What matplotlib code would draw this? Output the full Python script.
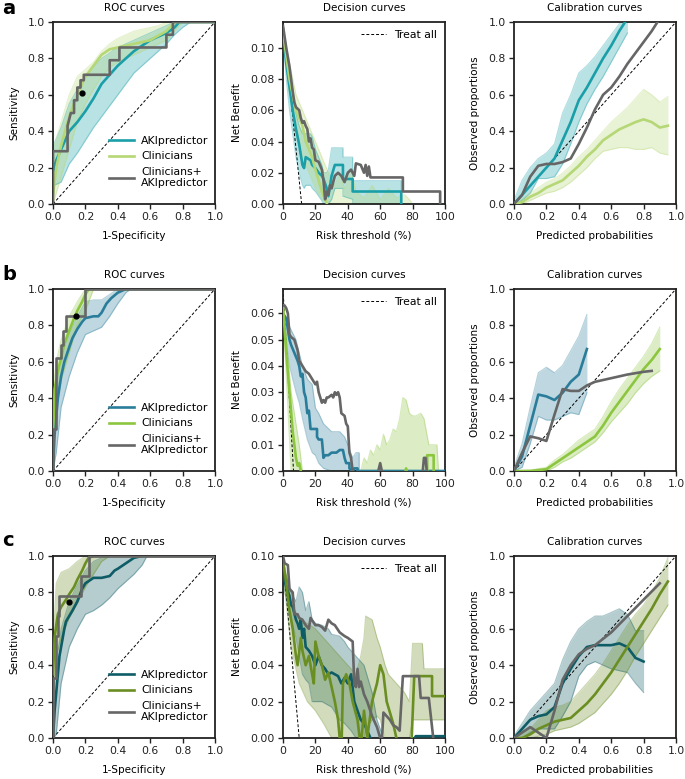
import matplotlib
matplotlib.use("Agg")
import matplotlib.pyplot as plt

plt.rcParams["font.family"] = ["DejaVu Sans"]
plt.rcParams["font.size"] = 7

GRAY = "#666666"
COLORS = {
    "a": ("#1a9fa8", "#b5d775"),
    "b": ("#2a7d9a", "#8cc63f"),
    "c": ("#0e5c66", "#6b8e23"),
}
LABELS = ["AKIpredictor", "Clinicians", "Clinicians+\nAKIpredictor"]

# ---------------- row a ----------------
a_roc_ai_x = [0, 0.02, 0.05, 0.1, 0.15, 0.2, 0.25, 0.3, 0.35, 0.4, 0.45, 0.5, 0.55, 0.6, 0.65, 0.7, 0.75, 0.78, 1.0]
a_roc_ai_y = [0.18, 0.24, 0.3, 0.4, 0.45, 0.51, 0.58, 0.66, 0.71, 0.76, 0.8, 0.84, 0.87, 0.9, 0.92, 0.94, 0.97, 1.0, 1.0]
a_roc_band_x = [0, 0.05, 0.1, 0.15, 0.2, 0.25, 0.3, 0.35, 0.4, 0.45, 0.5, 0.55, 0.6, 0.65, 0.7, 0.75, 0.8, 0.85, 1.0]
a_roc_ai_hi = [0.32, 0.42, 0.55, 0.63, 0.7, 0.75, 0.8, 0.83, 0.86, 0.88, 0.9, 0.92, 0.94, 0.96, 0.98, 1.0, 1.0, 1.0, 1.0]
a_roc_ai_lo = [0.1, 0.12, 0.22, 0.28, 0.35, 0.42, 0.48, 0.54, 0.6, 0.66, 0.72, 0.76, 0.8, 0.84, 0.88, 0.93, 0.97, 1.0, 1.0]
a_roc_cl_x = [0, 0.02, 0.05, 0.1, 0.15, 0.2, 0.25, 0.3, 0.35, 0.4, 0.5, 0.6, 0.7, 0.75, 1.0]
a_roc_cl_y = [0.05, 0.2, 0.32, 0.48, 0.6, 0.7, 0.76, 0.82, 0.85, 0.86, 0.88, 0.9, 0.95, 1.0, 1.0]
a_roc_cl_hi = [0.3, 0.45, 0.6, 0.7, 0.74, 0.78, 0.84, 0.88, 0.91, 0.93, 0.95, 0.96, 0.97, 0.98, 1.0, 1.0, 1.0, 1.0, 1.0]
a_roc_cl_lo = [0.0, 0.15, 0.3, 0.45, 0.55, 0.63, 0.7, 0.75, 0.78, 0.8, 0.82, 0.84, 0.86, 0.88, 0.9, 0.95, 1.0, 1.0, 1.0]
a_roc_co_x = [0, 0, 0.09, 0.09, 0.11, 0.13, 0.13, 0.15, 0.15, 0.17, 0.17, 0.19, 0.19, 0.35, 0.35, 0.41, 0.41, 0.70, 0.70, 0.74, 0.74, 1.0]
a_roc_co_y = [0, 0.29, 0.29, 0.43, 0.5, 0.5, 0.57, 0.57, 0.64, 0.64, 0.68, 0.68, 0.71, 0.71, 0.79, 0.79, 0.86, 0.86, 0.93, 0.93, 1.0, 1.0]
a_roc_dot = (0.18, 0.61)

a_dc_prev = 0.1165
a_dc_treatall_x = [0, 11.5]
a_dc_ai_x = [0, 2, 4, 6, 8, 10, 12, 13, 14, 17, 18, 20, 22, 24, 25, 27, 28, 30, 32, 37, 37, 43, 43, 73, 73, 100]
a_dc_ai_y = [0.11, 0.09, 0.075, 0.06, 0.048, 0.038, 0.025, 0.023, 0.03, 0.028, 0.025, 0.023, 0.02, 0.018, 0.016, 0.01, 0.005, 0.018, 0.025, 0.025, 0.016, 0.016, 0.008, 0.008, -0.002, -0.002]
a_dc_ai_hi = [0.112, 0.1, 0.085, 0.07, 0.058, 0.05, 0.045, 0.045, 0.045, 0.045, 0.043, 0.035, 0.03, 0.025, 0.02, 0.02, 0.022, 0.036, 0.036, 0.036, 0.03, 0.03, 0.015, 0.015, 0.0, 0.0]
a_dc_ai_lo = [0.108, 0.08, 0.06, 0.045, 0.03, 0.02, 0.012, 0.01, 0.012, 0.012, 0.01, 0.008, 0.005, 0.002, 0.0, 0.0, 0.0, 0.003, 0.01, 0.01, 0.005, 0.003, 0.0, 0.0, -0.002, -0.002]
a_dc_cl_x = [0, 2, 4, 6, 8, 10, 12, 14, 16, 18, 20, 22, 24, 26, 28, 30, 100]
a_dc_cl_y = [0.112, 0.095, 0.08, 0.07, 0.06, 0.055, 0.05, 0.04, 0.035, 0.03, 0.022, 0.015, 0.008, 0.003, -0.002, -0.005, -0.005]
a_dc_cl_band_x = [0, 4, 8, 12, 16, 20, 24, 28, 32, 35, 38, 42, 45, 50, 55, 60, 65, 70, 75, 78, 80, 100]
a_dc_cl_hi = [0.113, 0.09, 0.07, 0.06, 0.05, 0.04, 0.03, 0.02, 0.012, 0.02, 0.01, 0.022, 0.008, 0.004, 0.012, 0.003, 0.01, 0.004, 0.006, 0.003, 0.0, 0.0]
a_dc_cl_lo = [0.11, 0.07, 0.045, 0.03, 0.02, 0.01, 0.003, 0, 0, 0, 0, 0, 0, 0, 0, 0, 0, 0, 0, 0, 0, 0]
a_dc_co_x = [0, 2, 4, 5, 6, 7, 8, 9, 10, 11, 12, 13, 14, 15, 16, 17, 18, 19, 20, 22, 24, 25, 26, 27, 28, 29, 30, 32, 34, 36, 38, 40, 42, 44, 45, 48, 50, 51, 52, 53, 54, 74, 74, 97, 97, 100]
a_dc_co_y = [0.114, 0.1, 0.088, 0.08, 0.072, 0.065, 0.062, 0.061, 0.06, 0.055, 0.052, 0.053, 0.05, 0.048, 0.04, 0.042, 0.036, 0.035, 0.028, 0.027, 0.022, 0.015, 0.003, 0.008, 0.006, 0.012, 0.01, 0.018, 0.02, 0.018, 0.014, 0.02, 0.022, 0.018, 0.026, 0.025, 0.02, 0.025, 0.018, 0.024, 0.017, 0.017, 0.008, 0.008, -0.002, -0.002]

a_cal_ai_x = [0, 0.05, 0.1, 0.15, 0.2, 0.25, 0.3, 0.35, 0.4, 0.45, 0.5, 0.55, 0.6, 0.65, 0.7]
a_cal_ai_y = [0, 0.05, 0.1, 0.15, 0.2, 0.25, 0.35, 0.45, 0.57, 0.64, 0.72, 0.8, 0.87, 0.95, 1.02]
a_cal_ai_hi = [0.02, 0.13, 0.2, 0.25, 0.28, 0.33, 0.5, 0.6, 0.72, 0.76, 0.81, 0.87, 0.93, 0.99, 1.05]
a_cal_ai_lo = [0, 0.02, 0.06, 0.14, 0.14, 0.15, 0.22, 0.33, 0.45, 0.55, 0.63, 0.7, 0.78, 0.86, 0.94]
a_cal_cl_x = [0, 0.05, 0.1, 0.15, 0.2, 0.25, 0.3, 0.35, 0.4, 0.45, 0.5, 0.55, 0.6, 0.65, 0.7, 0.75, 0.8, 0.85, 0.9, 0.95]
a_cal_cl_y = [0, 0.01, 0.04, 0.06, 0.09, 0.11, 0.13, 0.17, 0.21, 0.26, 0.3, 0.35, 0.38, 0.41, 0.43, 0.45, 0.465, 0.45, 0.42, 0.43]
a_cal_cl_hi = [0.01, 0.03, 0.06, 0.09, 0.12, 0.14, 0.17, 0.21, 0.26, 0.3, 0.35, 0.4, 0.45, 0.49, 0.53, 0.58, 0.63, 0.6, 0.56, 0.59]
a_cal_cl_lo = [0, 0.0, 0.02, 0.04, 0.06, 0.07, 0.09, 0.12, 0.16, 0.2, 0.25, 0.29, 0.3, 0.31, 0.31, 0.3, 0.3, 0.31, 0.28, 0.27]
a_cal_co_x = [0, 0.05, 0.1, 0.15, 0.2, 0.25, 0.3, 0.35, 0.4, 0.45, 0.5, 0.55, 0.6, 0.65, 0.7, 0.75, 0.8, 0.85, 0.9]
a_cal_co_y = [0, 0.05, 0.15, 0.21, 0.22, 0.22, 0.23, 0.25, 0.33, 0.42, 0.52, 0.6, 0.64, 0.7, 0.77, 0.83, 0.89, 0.95, 1.02]

# ---------------- row b ----------------
b_roc_ai_x = [0, 0.01, 0.02, 0.03, 0.05, 0.07, 0.1, 0.12, 0.15, 0.18, 0.2, 0.25, 0.28, 0.3, 0.33, 0.36, 0.4, 0.45, 1.0]
b_roc_ai_y = [0, 0.2, 0.3, 0.4, 0.52, 0.6, 0.68, 0.73, 0.78, 0.82, 0.84, 0.85, 0.85, 0.87, 0.92, 0.95, 0.98, 1.0, 1.0]
b_roc_band_x = [0, 0.02, 0.05, 0.1, 0.15, 0.2, 0.25, 0.3, 0.35, 0.4, 0.45, 0.48, 1.0]
b_roc_ai_hi = [0.25, 0.45, 0.62, 0.75, 0.85, 0.93, 0.94, 0.94, 0.97, 1.0, 1.0, 1.0, 1.0]
b_roc_ai_lo = [0, 0.1, 0.35, 0.52, 0.65, 0.75, 0.77, 0.79, 0.85, 0.92, 0.98, 1.0, 1.0]
b_roc_cl_x = [0, 0.01, 0.03, 0.05, 0.07, 0.1, 0.13, 0.15, 0.18, 0.2, 0.22, 1.0]
b_roc_cl_y = [0.22, 0.45, 0.55, 0.62, 0.7, 0.77, 0.84, 0.88, 0.93, 0.97, 1.0, 1.0]
b_roc_cl_hi = [0.45, 0.6, 0.72, 0.85, 0.93, 1.0, 1.0, 1.0, 1.0, 1.0, 1.0, 1.0, 1.0]
b_roc_cl_lo = [0, 0.35, 0.5, 0.65, 0.8, 0.88, 1.0, 1.0, 1.0, 1.0, 1.0, 1.0, 1.0]
b_roc_co_x = [0, 0, 0.02, 0.02, 0.05, 0.05, 0.06, 0.06, 0.08, 0.08, 0.2, 0.2, 1.0]
b_roc_co_y = [0, 0.23, 0.23, 0.62, 0.62, 0.69, 0.69, 0.77, 0.77, 0.85, 0.85, 1.0, 1.0]
b_roc_dot = (0.14, 0.85)

b_dc_prev = 0.0693
b_dc_treatall_x = [0, 6.5]
b_dc_ai_x = [0, 2, 4, 5, 7, 9, 10, 11, 12, 13, 14, 15, 16, 17, 21, 21, 22, 24, 25, 26, 28, 30, 33, 35, 37, 38, 39, 41, 41, 43, 44, 46, 46, 100]
b_dc_ai_y = [0.06, 0.058, 0.05, 0.048, 0.045, 0.042, 0.04, 0.036, 0.037, 0.03, 0.028, 0.022, 0.023, 0.016, 0.016, 0.013, 0.012, 0.012, 0.005, 0.006, 0.006, 0.007, 0.007, 0.008, 0.008, 0.005, 0.003, 0.003, 0.001, 0.0, 0.001, 0.001, 0.0, 0.0]
b_dc_ai_band_x = [0, 4, 8, 10, 12, 15, 18, 20, 22, 25, 30, 35, 38, 40, 43, 45, 47, 47, 100]
b_dc_ai_hi = [0.06, 0.055, 0.05, 0.045, 0.04, 0.035, 0.033, 0.024, 0.022, 0.018, 0.015, 0.015, 0.013, 0.01, 0.005, 0.007, 0.007, 0, 0]
b_dc_ai_lo = [0.058, 0.04, 0.03, 0.026, 0.02, 0.012, 0.007, 0.006, 0.003, 0.001, 0, 0, 0, 0, 0, 0, 0, 0, 0]
b_dc_cl_x = [0, 2, 4, 6, 8, 9, 10, 11, 12, 75, 76, 77, 89, 89, 93, 93, 100]
b_dc_cl_y = [0.063, 0.045, 0.03, 0.015, 0.005, 0.002, 0.003, 0.0, -0.002, -0.002, 0.001, -0.002, -0.002, 0.006, 0.006, -0.002, -0.002]
b_dc_cl_band_x = [0, 5, 10, 12, 48, 50, 52, 54, 56, 58, 60, 62, 64, 66, 68, 70, 72, 74, 76, 78, 80, 82, 85, 87, 90, 95, 96, 100]
b_dc_cl_hi = [0.065, 0.03, 0.01, 0, 0, 0.005, 0.003, 0.008, 0.006, 0.01, 0.008, 0.014, 0.01, 0.012, 0.016, 0.015, 0.02, 0.028, 0.027, 0.022, 0.021, 0.021, 0.022, 0.02, 0.01, 0.01, 0, 0]
b_dc_cl_lo = [0.06] + [0] * 27
b_dc_co_x = [0, 1, 2, 3, 4, 5, 7, 8, 9, 10, 12, 14, 16, 18, 20, 21, 22, 24, 25, 26, 27, 28, 30, 31, 32, 33, 34, 35, 36, 38, 39, 40, 41, 42, 43, 44, 58, 60, 61, 62, 86, 87, 88, 89, 100]
b_dc_co_y = [0.063, 0.063, 0.062, 0.06, 0.052, 0.051, 0.05, 0.048, 0.046, 0.042, 0.04, 0.038, 0.037, 0.035, 0.033, 0.034, 0.03, 0.026, 0.027, 0.026, 0.028, 0.028, 0.029, 0.028, 0.03, 0.029, 0.03, 0.028, 0.022, 0.021, 0.018, 0.017, 0.007, 0.005, 0.0, -0.002, -0.002, 0.003, 0.0, -0.002, -0.002, 0.005, 0.005, -0.002, -0.002]

b_cal_ai_x = [0, 0.05, 0.1, 0.15, 0.2, 0.25, 0.3, 0.35, 0.4, 0.45]
b_cal_ai_y = [0, 0.08, 0.25, 0.42, 0.41, 0.39, 0.43, 0.49, 0.53, 0.67]
b_cal_ai_hi = [0.02, 0.15, 0.35, 0.54, 0.57, 0.54, 0.58, 0.66, 0.74, 0.86]
b_cal_ai_lo = [0, 0.02, 0.15, 0.3, 0.28, 0.28, 0.3, 0.32, 0.31, 0.43]
b_cal_cl_x = [0, 0.1, 0.2, 0.25, 0.3, 0.35, 0.4, 0.45, 0.5, 0.55, 0.6, 0.65, 0.7, 0.75, 0.8, 0.85, 0.9]
b_cal_cl_y = [0, 0.0, 0.01, 0.04, 0.07, 0.1, 0.13, 0.16, 0.19, 0.25, 0.32, 0.38, 0.44, 0.5, 0.56, 0.61, 0.67]
b_cal_cl_hi = [0, 0.005, 0.02, 0.06, 0.09, 0.13, 0.17, 0.2, 0.23, 0.3, 0.38, 0.45, 0.51, 0.57, 0.63, 0.7, 0.79]
b_cal_cl_lo = [0, 0.0, 0.0, 0.02, 0.05, 0.07, 0.1, 0.13, 0.16, 0.21, 0.27, 0.32, 0.37, 0.43, 0.48, 0.52, 0.55]
b_cal_co_x = [0, 0.05, 0.1, 0.15, 0.2, 0.25, 0.3, 0.35, 0.4, 0.45, 0.5, 0.6, 0.7, 0.8, 0.85]
b_cal_co_y = [0, 0.1, 0.19, 0.18, 0.165, 0.31, 0.45, 0.44, 0.44, 0.47, 0.49, 0.51, 0.53, 0.545, 0.55]

# ---------------- row c ----------------
c_roc_ai_x = [0, 0.01, 0.02, 0.03, 0.04, 0.05, 0.06, 0.07, 0.08, 0.1, 0.12, 0.15, 0.18, 0.2, 0.25, 0.3, 0.35, 0.38, 0.4, 0.45, 0.5, 0.55, 1.0]
c_roc_ai_y = [0, 0.15, 0.25, 0.35, 0.45, 0.5, 0.55, 0.6, 0.64, 0.67, 0.7, 0.75, 0.82, 0.85, 0.88, 0.88, 0.89, 0.92, 0.93, 0.96, 0.99, 1.0, 1.0]
c_roc_band_x = [0, 0.02, 0.05, 0.1, 0.15, 0.2, 0.25, 0.3, 0.35, 0.4, 0.45, 0.5, 0.55, 0.58, 1.0]
c_roc_ai_hi = [0.2, 0.4, 0.6, 0.75, 0.84, 0.92, 0.97, 0.99, 1.0, 1.0, 1.0, 1.0, 1.0, 1.0, 1.0]
c_roc_ai_lo = [0, 0.02, 0.3, 0.5, 0.6, 0.68, 0.7, 0.73, 0.77, 0.82, 0.86, 0.9, 0.95, 1.0, 1.0]
c_roc_cl_x = [0, 0.01, 0.02, 0.03, 0.05, 0.08, 0.1, 0.13, 0.15, 0.18, 0.2, 0.22, 0.25, 1.0]
c_roc_cl_y = [0.35, 0.55, 0.62, 0.68, 0.72, 0.76, 0.79, 0.83, 0.87, 0.92, 0.96, 0.99, 1.0, 1.0]
c_roc_cl_hi = [0.5, 0.85, 0.91, 0.93, 0.97, 1.0, 1.0, 1.0, 1.0, 1.0, 1.0, 1.0, 1.0, 1.0, 1.0]
c_roc_cl_lo = [0.2, 0.45, 0.55, 0.66, 0.74, 0.83, 0.9, 0.97, 1.0, 1.0, 1.0, 1.0, 1.0, 1.0, 1.0]
c_roc_co_x = [0, 0, 0.02, 0.02, 0.03, 0.03, 0.04, 0.04, 0.17, 0.17, 0.22, 0.22, 1.0]
c_roc_co_y = [0, 0.33, 0.33, 0.56, 0.56, 0.67, 0.67, 0.78, 0.78, 0.89, 0.89, 1.0, 1.0]
c_roc_dot = (0.1, 0.75)

c_dc_prev = 0.098
c_dc_treatall_x = [0, 10]
c_dc_ai_x = [0, 2, 4, 5, 6, 8, 9, 10, 11, 12, 13, 14, 16, 18, 20, 22, 24, 26, 28, 30, 32, 34, 36, 38, 40, 42, 44, 46, 48, 50, 52, 54, 56, 80, 82, 100]
c_dc_ai_y = [0.09, 0.083, 0.078, 0.073, 0.072, 0.065, 0.063, 0.06, 0.065, 0.055, 0.06, 0.05, 0.048, 0.045, 0.04, 0.045, 0.04, 0.038, 0.035, 0.036, 0.035, 0.034, 0.03, 0.033, 0.03, 0.035, 0.02, 0.015, 0.01, 0.008, 0.004, 0.0, -0.002, -0.002, 0.001, 0.001]
c_dc_ai_band_x = [0, 4, 5, 8, 10, 12, 14, 16, 18, 20, 24, 28, 30, 35, 38, 40, 42, 45, 50, 55, 58, 60, 62, 100]
c_dc_ai_hi = [0.095, 0.083, 0.08, 0.075, 0.083, 0.08, 0.07, 0.075, 0.065, 0.063, 0.062, 0.06, 0.057, 0.056, 0.053, 0.05, 0.048, 0.045, 0.04, 0.025, 0.01, 0.005, 0.0, 0.0]
c_dc_ai_lo = [0.085, 0.068, 0.065, 0.055, 0.045, 0.035, 0.032, 0.03, 0.02, 0.02, 0.02, 0.018, 0.017, 0.01, 0.008, 0.006, 0.004, 0.0, 0, 0, 0, 0, 0, 0]
c_dc_cl_x = [0, 2, 4, 6, 8, 9, 11, 12, 14, 16, 18, 19, 20, 22, 24, 26, 28, 30, 32, 34, 35, 36, 37, 39, 41, 43, 46, 48, 50, 52, 55, 58, 60, 62, 64, 68, 70, 72, 79, 81, 92, 92, 100]
c_dc_cl_y = [0.097, 0.085, 0.07, 0.06, 0.045, 0.04, 0.055, 0.048, 0.04, 0.045, 0.035, 0.03, 0.053, 0.045, 0.04, 0.032, 0.036, 0.028, 0.02, 0.01, 0.0, -0.01, 0.03, 0.035, 0.03, 0.02, 0.01, -0.005, 0.015, 0.0, 0.02, 0.03, 0.04, 0.035, 0.02, 0.008, 0.0, -0.01, -0.01, 0.034, 0.034, 0.023, 0.023]
c_dc_cl_band_x = [0, 5, 10, 15, 20, 25, 30, 35, 40, 45, 48, 50, 51, 55, 58, 60, 63, 65, 70, 75, 78, 80, 86, 87, 100]
c_dc_cl_hi = [0.1, 0.075, 0.065, 0.063, 0.06, 0.055, 0.05, 0.045, 0.04, 0.035, 0.045, 0.055, 0.067, 0.065, 0.055, 0.05, 0.04, 0.035, 0.03, 0.025, 0.02, 0.052, 0.052, 0.038, 0.038]
c_dc_cl_lo = [0.09, 0.05, 0.03, 0.02, 0.015, 0.008, 0.0, 0, 0, 0, 0, 0, 0.005, 0.01, 0.012, 0.01, 0.0, 0, 0, 0, 0, 0.01, 0.01, 0.01, 0.01]
c_dc_co_x = [0, 1, 3, 4, 6, 7, 9, 10, 12, 14, 16, 17, 20, 22, 24, 26, 28, 30, 32, 35, 38, 40, 43, 44, 45, 46, 47, 48, 50, 52, 55, 58, 60, 61, 62, 64, 66, 68, 70, 72, 74, 84, 85, 90, 93, 100]
c_dc_co_y = [0.1, 0.096, 0.095, 0.082, 0.08, 0.068, 0.068, 0.066, 0.065, 0.062, 0.06, 0.066, 0.062, 0.062, 0.061, 0.059, 0.065, 0.063, 0.062, 0.058, 0.056, 0.055, 0.053, 0.03, 0.028, 0.038, 0.028, 0.031, 0.024, 0.02, 0.012, 0.006, 0.0, -0.002, 0.014, 0.012, 0.01, 0.007, 0.006, 0.004, 0.034, 0.034, 0.022, 0.022, -0.002, -0.002]

c_cal_ai_x = [0, 0.05, 0.1, 0.15, 0.2, 0.25, 0.3, 0.35, 0.4, 0.45, 0.5, 0.55, 0.6, 0.65, 0.7, 0.75, 0.8]
c_cal_ai_y = [0, 0.05, 0.1, 0.12, 0.13, 0.17, 0.3, 0.38, 0.45, 0.5, 0.51, 0.51, 0.51, 0.52, 0.5, 0.44, 0.42]
c_cal_ai_hi = [0.01, 0.08, 0.15, 0.2, 0.25, 0.3, 0.43, 0.53, 0.6, 0.64, 0.67, 0.67, 0.69, 0.71, 0.68, 0.59, 0.59]
c_cal_ai_lo = [0, 0.0, 0.03, 0.05, 0.05, 0.05, 0.12, 0.2, 0.34, 0.4, 0.42, 0.4, 0.38, 0.37, 0.36, 0.3, 0.25]
c_cal_cl_x = [0, 0.05, 0.1, 0.15, 0.2, 0.25, 0.3, 0.35, 0.4, 0.45, 0.5, 0.55, 0.6, 0.65, 0.7, 0.75, 0.8, 0.85, 0.9, 0.95]
c_cal_cl_y = [0, 0.0, 0.02, 0.05, 0.07, 0.09, 0.1, 0.11, 0.15, 0.19, 0.24, 0.3, 0.36, 0.43, 0.5, 0.57, 0.64, 0.71, 0.79, 0.86]
c_cal_cl_hi = [0, 0.02, 0.05, 0.1, 0.15, 0.17, 0.18, 0.2, 0.25, 0.3, 0.35, 0.41, 0.48, 0.55, 0.62, 0.68, 0.73, 0.8, 0.88, 0.99]
c_cal_cl_lo = [0, 0.0, 0.0, 0.01, 0.02, 0.04, 0.05, 0.06, 0.08, 0.11, 0.14, 0.19, 0.24, 0.3, 0.37, 0.45, 0.52, 0.59, 0.66, 0.73]
c_cal_co_x = [0, 0.05, 0.1, 0.15, 0.2, 0.25, 0.3, 0.35, 0.4, 0.45, 0.5, 0.6, 0.7, 0.8, 0.9]
c_cal_co_y = [0, 0.03, 0.06, 0.03, 0.0, 0.15, 0.32, 0.4, 0.46, 0.49, 0.51, 0.58, 0.67, 0.76, 0.85]

ROWS = {
    "a": dict(
        roc=[(a_roc_ai_x, a_roc_ai_y, a_roc_band_x, a_roc_ai_lo, a_roc_ai_hi),
             (a_roc_cl_x, a_roc_cl_y, a_roc_band_x, a_roc_cl_lo, a_roc_cl_hi),
             (a_roc_co_x, a_roc_co_y)],
        dot=a_roc_dot,
        dc=[(a_dc_ai_x, a_dc_ai_y, a_dc_ai_x, a_dc_ai_lo, a_dc_ai_hi),
            (a_dc_cl_x, a_dc_cl_y, a_dc_cl_band_x, a_dc_cl_lo, a_dc_cl_hi),
            (a_dc_co_x, a_dc_co_y)],
        prev=a_dc_prev, ta=a_dc_treatall_x, dcticks=[0, 0.02, 0.04, 0.06, 0.08, 0.10],
        cal=[(a_cal_ai_x, a_cal_ai_y, a_cal_ai_x, a_cal_ai_lo, a_cal_ai_hi),
             (a_cal_cl_x, a_cal_cl_y, a_cal_cl_x, a_cal_cl_lo, a_cal_cl_hi),
             (a_cal_co_x, a_cal_co_y)],
    ),
    "b": dict(
        roc=[(b_roc_ai_x, b_roc_ai_y, b_roc_band_x, b_roc_ai_lo, b_roc_ai_hi),
             (b_roc_cl_x, b_roc_cl_y, b_roc_band_x, b_roc_cl_lo, b_roc_cl_hi),
             (b_roc_co_x, b_roc_co_y)],
        dot=b_roc_dot,
        dc=[(b_dc_ai_x, b_dc_ai_y, b_dc_ai_band_x, b_dc_ai_lo, b_dc_ai_hi),
            (b_dc_cl_x, b_dc_cl_y, b_dc_cl_band_x, b_dc_cl_lo, b_dc_cl_hi),
            (b_dc_co_x, b_dc_co_y)],
        prev=b_dc_prev, ta=b_dc_treatall_x, dcticks=[0, 0.01, 0.02, 0.03, 0.04, 0.05, 0.06],
        cal=[(b_cal_ai_x, b_cal_ai_y, b_cal_ai_x, b_cal_ai_lo, b_cal_ai_hi),
             (b_cal_cl_x, b_cal_cl_y, b_cal_cl_x, b_cal_cl_lo, b_cal_cl_hi),
             (b_cal_co_x, b_cal_co_y)],
    ),
    "c": dict(
        roc=[(c_roc_ai_x, c_roc_ai_y, c_roc_band_x, c_roc_ai_lo, c_roc_ai_hi),
             (c_roc_cl_x, c_roc_cl_y, c_roc_band_x, c_roc_cl_lo, c_roc_cl_hi),
             (c_roc_co_x, c_roc_co_y)],
        dot=c_roc_dot,
        dc=[(c_dc_ai_x, c_dc_ai_y, c_dc_ai_band_x, c_dc_ai_lo, c_dc_ai_hi),
            (c_dc_cl_x, c_dc_cl_y, c_dc_cl_band_x, c_dc_cl_lo, c_dc_cl_hi),
            (c_dc_co_x, c_dc_co_y)],
        prev=c_dc_prev, ta=c_dc_treatall_x, dcticks=[0, 0.02, 0.04, 0.06, 0.08, 0.10],
        cal=[(c_cal_ai_x, c_cal_ai_y, c_cal_ai_x, c_cal_ai_lo, c_cal_ai_hi),
             (c_cal_cl_x, c_cal_cl_y, c_cal_cl_x, c_cal_cl_lo, c_cal_cl_hi),
             (c_cal_co_x, c_cal_co_y)],
    ),
}

W, H = 685, 779
fig = plt.figure(figsize=(W / 100, H / 100), dpi=100)

col_left = [53, 283, 514]
row_top = [22, 289, 556]
ax_w, ax_h = 162, 182
label_y = [8, 274, 541]
TXT = 7.5


def style(ax):
    for s in ax.spines.values():
        s.set_linewidth(1.3)
        s.set_color("#222222")
    ax.tick_params(direction="out", length=3.5, width=1, colors="#222222", labelsize=7.8, pad=2.5)


def draw_curves(ax, curves, colors):
    for i, c in enumerate(curves):
        col = colors[i]
        if len(c) == 5:
            x, y, bx, lo, hi = c
            ax.fill_between(bx, lo, hi, color=col, alpha=0.3, lw=0)
            ax.plot(bx, lo, color=col, alpha=0.35, lw=0.8)
            ax.plot(bx, hi, color=col, alpha=0.35, lw=0.8)
        else:
            x, y = c
        ax.plot(x, y, color=col, lw=1.9, label=LABELS[i], zorder=3)


for r, key in enumerate(["a", "b", "c"]):
    d = ROWS[key]
    ai_col, cl_col = COLORS[key]
    colors = [ai_col, cl_col, GRAY]
    axes = []
    for ci in range(3):
        ax = fig.add_axes([col_left[ci] / W, 1 - (row_top[r] + ax_h) / H, ax_w / W, ax_h / H])
        style(ax)
        axes.append(ax)
    ax_roc, ax_dc, ax_cal = axes

    # ROC
    ax_roc.plot([0, 1], [0, 1], ls="--", color="black", lw=0.7, dashes=(3, 2))
    draw_curves(ax_roc, d["roc"], colors)
    ax_roc.plot(*d["dot"], "o", color="black", ms=3.5, zorder=4)
    ax_roc.set_xlim(0, 1)
    ax_roc.set_ylim(0, 1)
    ax_roc.set_xticks([0, 0.2, 0.4, 0.6, 0.8, 1.0])
    ax_roc.set_yticks([0, 0.2, 0.4, 0.6, 0.8, 1.0])
    ax_roc.set_xlabel("1-Specificity", fontsize=TXT, labelpad=6)
    ax_roc.set_ylabel("Sensitivity", fontsize=TXT, labelpad=6)
    ax_roc.set_title("ROC curves", fontsize=TXT, pad=8)
    ax_roc.legend(loc="lower right", bbox_to_anchor=(1.0, 0.05), frameon=False, fontsize=7.8,
                  handlelength=2.3, borderaxespad=0.2, labelspacing=0.5, handletextpad=0.65)

    # Decision curves
    ax_dc.plot(d["ta"], [d["prev"], 0], ls="--", color="black", lw=0.7, dashes=(3, 2), label="Treat all")
    draw_curves(ax_dc, d["dc"], colors)
    ax_dc.set_xlim(0, 100)
    ax_dc.set_ylim(0, d["prev"])
    ax_dc.set_xticks([0, 20, 40, 60, 80, 100])
    ax_dc.set_yticks(d["dcticks"])
    ax_dc.set_yticklabels(["%.2f" % t for t in d["dcticks"]])
    ax_dc.set_xlabel("Risk threshold (%)", fontsize=TXT, labelpad=6)
    ax_dc.set_ylabel("Net Benefit", fontsize=TXT, labelpad=6)
    ax_dc.set_title("Decision curves", fontsize=TXT, pad=8)
    h, l = ax_dc.get_legend_handles_labels()
    ax_dc.legend([h[0]], [l[0]], loc="upper right", frameon=False, fontsize=7.8,
                 handlelength=2.3, borderaxespad=0.3, handletextpad=0.8)

    # Calibration
    ax_cal.plot([0, 1], [0, 1], ls="--", color="black", lw=0.7, dashes=(3, 2))
    draw_curves(ax_cal, d["cal"], colors)
    ax_cal.set_xlim(0, 1)
    ax_cal.set_ylim(0, 1)
    ax_cal.set_xticks([0, 0.2, 0.4, 0.6, 0.8, 1.0])
    ax_cal.set_yticks([0, 0.2, 0.4, 0.6, 0.8, 1.0])
    ax_cal.set_xlabel("Predicted probabilities", fontsize=TXT, labelpad=6)
    ax_cal.set_ylabel("Observed proportions", fontsize=TXT, labelpad=6)
    ax_cal.set_title("Calibration curves", fontsize=TXT, pad=8)

    fig.text(2 / W, 1 - label_y[r] / H, key, fontsize=14, fontweight="bold", va="center", ha="left")

fig.savefig("out.png", dpi=100)
